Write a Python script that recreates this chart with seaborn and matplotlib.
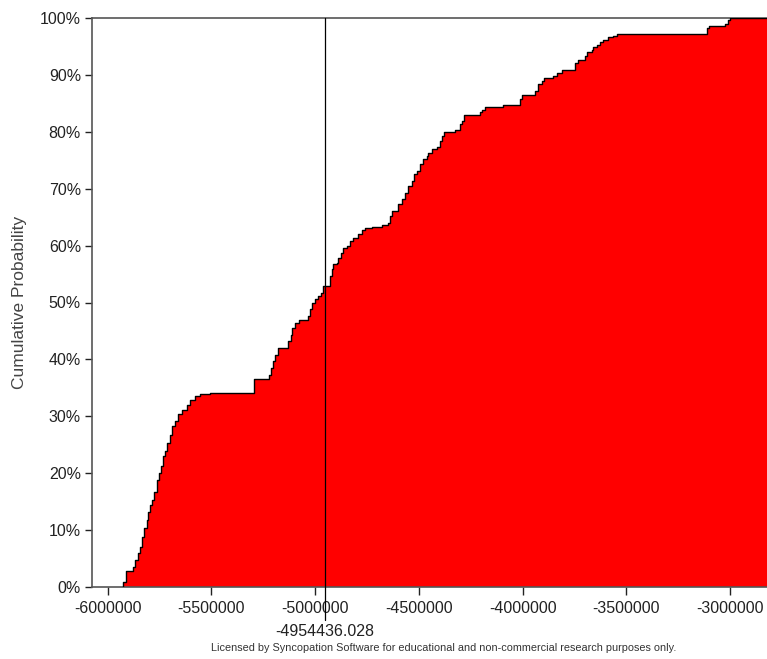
import numpy as np
import pandas as pd
import matplotlib
matplotlib.use("Agg")
import matplotlib.pyplot as plt
import matplotlib.transforms as mtransforms
from matplotlib.ticker import FuncFormatter
import seaborn as sns

# Step points of the cumulative distribution (value where each level starts, cumulative %)
values = [
    -5923900, -5912300, -5875700, -5867500, -5851600, -5843500, -5832400, -5822700,
    -5811200, -5803500, -5795300, -5784200, -5774600, -5763000, -5751900, -5743700,
    -5734100, -5723000, -5711900, -5698900, -5689300, -5674900, -5659000, -5642600,
    -5618500, -5602600, -5578500, -5554400, -5506300, -5292900, -5222100, -5212400,
    -5201300, -5193200, -5180200, -5129100, -5117500, -5109800, -5096800, -5076100,
    -5032800, -5024600, -5016400, -5000500, -4984600, -4971600, -4960500, -4928200,
    -4920000, -4912300, -4895900, -4888200, -4876700, -4864200, -4847800, -4831900,
    -4816000, -4791900, -4775500, -4759600, -4727400, -4679200, -4647400, -4639200,
    -4631000, -4599200, -4582800, -4566900, -4551100, -4534700, -4523600, -4510600,
    -4494700, -4478800, -4462400, -4454700, -4438300, -4414200, -4398400, -4390200,
    -4379100, -4326100, -4302000, -4290900, -4281300, -4205700, -4194600, -4181600,
    -4093400, -4011500, -4001900, -3940700, -3924800, -3908500, -3895900, -3852600,
    -3836200, -3812100, -3748100, -3732200, -3699900, -3688800, -3667600, -3659900,
    -3643500, -3627600, -3611700, -3587700, -3563600, -3547200, -3113700, -3101100,
    -3025500, -3009600, -3001400,
]
cum_pct = [
    0.93, 2.87, 3.57, 4.75, 5.99, 7.10, 8.86, 10.39,
    11.80, 13.26, 14.44, 15.32, 16.78, 18.84, 20.07, 21.18,
    22.94, 23.82, 25.30, 26.76, 28.22, 29.10, 30.46, 31.16,
    32.04, 32.92, 33.50, 33.89, 34.10, 36.57, 37.32, 38.50,
    39.67, 40.85, 42.02, 43.19, 44.37, 45.55, 46.43, 46.88,
    47.59, 48.77, 49.95, 50.53, 51.11, 51.71, 52.87, 54.63,
    55.81, 56.69, 56.99, 57.87, 58.75, 59.63, 59.91, 60.79,
    61.39, 61.97, 62.73, 63.08, 63.33, 63.56, 63.91, 65.19,
    66.07, 67.25, 68.13, 69.31, 70.48, 71.36, 72.54, 73.12,
    74.30, 75.18, 75.76, 76.35, 77.06, 77.41, 78.40, 79.28,
    79.98, 80.33, 81.34, 81.92, 82.98, 83.40, 83.85, 84.38,
    84.74, 85.74, 86.50, 87.20, 88.38, 88.96, 89.38, 89.84,
    90.32, 90.79, 92.08, 92.66, 93.26, 93.96, 94.31, 94.84,
    95.30, 95.72, 96.18, 96.65, 96.88, 97.18, 98.24, 98.64,
    98.94, 99.60, 100.00,
]
x_ticks = [-6000000, -5500000, -5000000, -4500000, -4000000, -3500000, -3000000]
y_ticks = [0, 10, 20, 30, 40, 50, 60, 70, 80, 90, 100]
marker_value = -4954436.028
x_range = (-6074700, -2823200)

sns.set_theme(style="ticks")
plt.rcParams["font.family"] = ["Liberation Sans", "DejaVu Sans"]

fig = plt.figure(figsize=(7.67, 6.59), dpi=100)
ax = fig.add_axes([92 / 767, 72 / 659, 1 - 92 / 767, 569 / 659])

# close the curve at the baseline on the left and run the last level to the edge
xs = np.r_[values[0], values, x_range[1]]
ys = np.r_[0.0, cum_pct, cum_pct[-1]]
df = pd.DataFrame({"value": xs, "cum": ys})

ax.fill_between(df["value"], 0, df["cum"], step="post", color="#ff0000",
                linewidth=0, zorder=2)
sns.lineplot(data=df, x="value", y="cum", drawstyle="steps-post", estimator=None,
             sort=False, color="black", linewidth=1.0, ax=ax, zorder=3)

# marker line running down past the axis to its label
trans = mtransforms.blended_transform_factory(ax.transData, ax.transAxes)
ax.plot([marker_value, marker_value], [1.0, -0.058], color="black", linewidth=0.9,
        transform=trans, clip_on=False, zorder=4)
ax.text(marker_value, -0.079, f"{marker_value:.3f}", transform=trans, ha="center",
        va="center", fontsize=11.5, color="#222222")

ax.set_xlim(*x_range)
ax.set_ylim(0, 100)
ax.set_xticks(x_ticks)
ax.set_yticks(y_ticks)
ax.xaxis.set_major_formatter(FuncFormatter(lambda v, p: f"{int(v)}"))
ax.yaxis.set_major_formatter(FuncFormatter(lambda v, p: f"{int(v)}%"))
ax.tick_params(axis="both", labelsize=11.5, colors="#222222", length=6, width=1,
               direction="out")
ax.tick_params(axis="x", pad=4)
ax.tick_params(axis="y", pad=3, length=5)
ax.set_xlabel("")
ax.set_ylabel("Cumulative Probability", fontsize=12.5, color="#444444", labelpad=9)

for side in ("left", "top", "bottom"):
    ax.spines[side].set_visible(True)
    ax.spines[side].set_color("#555555")
    ax.spines[side].set_linewidth(1.2)
ax.spines["right"].set_visible(False)
ax.set_facecolor("white")
ax.grid(False)

fig.text(444 / 767, 1 - 648 / 659,
         "Licensed by Syncopation Software for educational and non-commercial research purposes only.",
         ha="center", va="center", fontsize=7.85, color="#333333")

fig.savefig("out.png", dpi=100, facecolor="white")
